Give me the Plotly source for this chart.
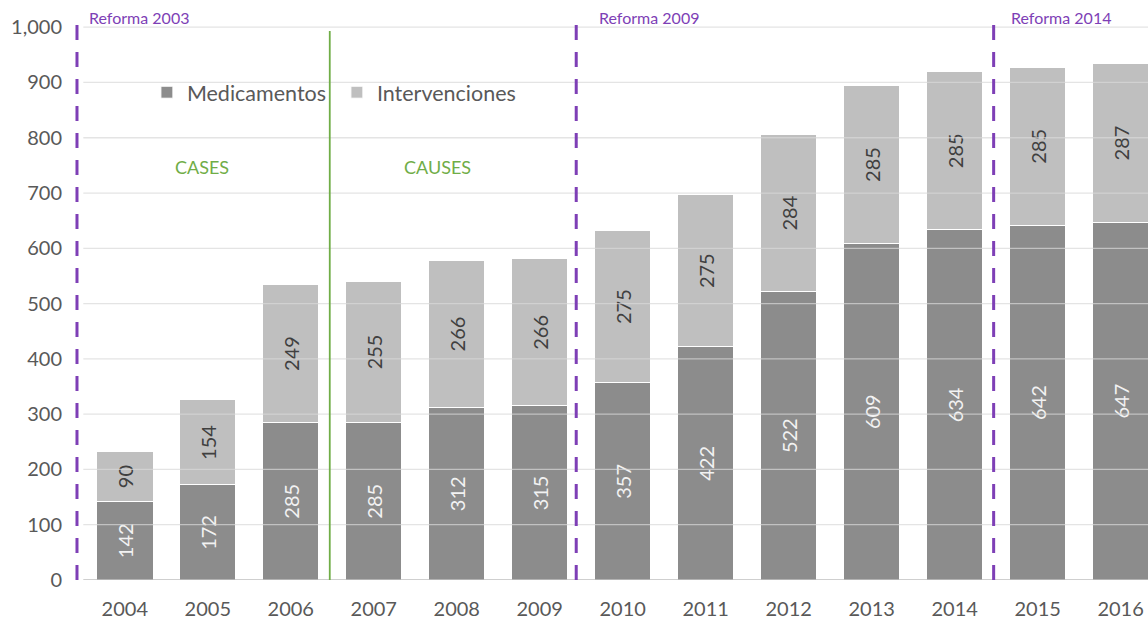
import plotly.graph_objects as go

years = ["2004", "2005", "2006", "2007", "2008", "2009", "2010",
         "2011", "2012", "2013", "2014", "2015", "2016"]
medicamentos = [142, 172, 285, 285, 312, 315, 357, 422, 522, 609, 634, 642, 647]
intervenciones = [90, 154, 249, 255, 266, 266, 275, 275, 284, 285, 285, 285, 287]

y_ticks = [0, 100, 200, 300, 400, 500, 600, 700, 800, 900, 1000]
y_ticklabels = ["0", "100", "200", "300", "400", "500", "600", "700", "800", "900", "1,000"]

FONT = "Lato, 'Open Sans', sans-serif"
PURPLE = "#7e3fb6"
GREEN = "#70ad47"
TXT = "#595959"

x_idx = list(range(len(years)))

fig = go.Figure()
fig.add_trace(go.Bar(
    x=x_idx, y=medicamentos, name="Medicamentos",
    marker=dict(color="#8c8c8c", line=dict(color="white", width=1)),
    text=[str(v) for v in medicamentos], textposition="inside",
    textangle=-90, insidetextanchor="middle",
    textfont=dict(color="#f2f2f2", size=20, family=FONT),
))
fig.add_trace(go.Bar(
    x=x_idx, y=intervenciones, name="Intervenciones",
    marker=dict(color="#bfbfbf", line=dict(color="white", width=1)),
    text=[str(v) for v in intervenciones], textposition="inside",
    textangle=-90, insidetextanchor="middle",
    textfont=dict(color="#404040", size=20, family=FONT),
))

shapes = []
# gridlines drawn above bars
for t in y_ticks[1:]:
    shapes.append(dict(type="line", xref="x", yref="y", x0=-0.5, x1=12.4, y0=t, y1=t,
                       line=dict(color="rgba(217,217,217,0.7)", width=1.3), layer="above"))
# zero line
shapes.append(dict(type="line", xref="x", yref="y", x0=-0.5, x1=12.4, y0=0, y1=0,
                   line=dict(color="#bfbfbf", width=1.5), layer="above"))
# reform dashed lines
for xv in [-0.576, 5.44, 10.47]:
    shapes.append(dict(type="line", xref="x", yref="y", x0=xv, x1=xv, y0=0, y1=1012,
                       line=dict(color=PURPLE, width=3, dash="15px,12px"), layer="above"))
# CASES / CAUSES divider
shapes.append(dict(type="line", xref="x", yref="y", x0=2.47, x1=2.47, y0=0, y1=993,
                   line=dict(color=GREEN, width=1.8), layer="above"))

annotations = [
    dict(x=-0.455, y=1.004, yref="paper", text="Reforma 2003", xanchor="left", yanchor="middle",
         showarrow=False, font=dict(color=PURPLE, size=16, family=FONT)),
    dict(x=5.69, y=1.004, yref="paper", text="Reforma 2009", xanchor="left", yanchor="middle",
         showarrow=False, font=dict(color=PURPLE, size=16, family=FONT)),
    dict(x=10.65, y=1.004, yref="paper", text="Reforma 2014", xanchor="left", yanchor="middle",
         showarrow=False, font=dict(color=PURPLE, size=16, family=FONT)),
    dict(x=0.936, y=747, text="CASES", xanchor="center", yanchor="middle",
         showarrow=False, font=dict(color=GREEN, size=18, family=FONT)),
    dict(x=3.77, y=747, text="CAUSES", xanchor="center", yanchor="middle",
         showarrow=False, font=dict(color=GREEN, size=18, family=FONT)),
]

fig.update_layout(
    barmode="stack", bargap=0.32,
    width=1148, height=621,
    margin=dict(l=75, r=0, t=20, b=41),
    paper_bgcolor="white", plot_bgcolor="white",
    font=dict(family=FONT, color=TXT, size=20),
    showlegend=True,
    legend=dict(orientation="h", x=0.067, y=0.871, xanchor="left", yanchor="middle",
                font=dict(size=21.5, color=TXT, family=FONT),
                entrywidth=145, entrywidthmode="pixels",
                bgcolor="rgba(0,0,0,0)", traceorder="normal"),
    xaxis=dict(range=[-0.6, 12.33], tickmode="array", tickvals=x_idx, ticktext=years,
               showgrid=False, zeroline=False, showline=False, ticks="",
               tickfont=dict(size=20, color=TXT, family=FONT), ticklabelstandoff=15),
    yaxis=dict(range=[0, 1013], tickmode="array", tickvals=y_ticks, ticktext=y_ticklabels,
               showgrid=False, zeroline=False, showline=False, ticks="",
               tickfont=dict(size=20, color=TXT, family=FONT), ticklabelstandoff=12),
    shapes=shapes, annotations=annotations,
    uniformtext=dict(minsize=20, mode="show"),
)

fig.write_html("out.html", config={"displayModeBar": False},
               post_script="document.body.style.margin='0';")
